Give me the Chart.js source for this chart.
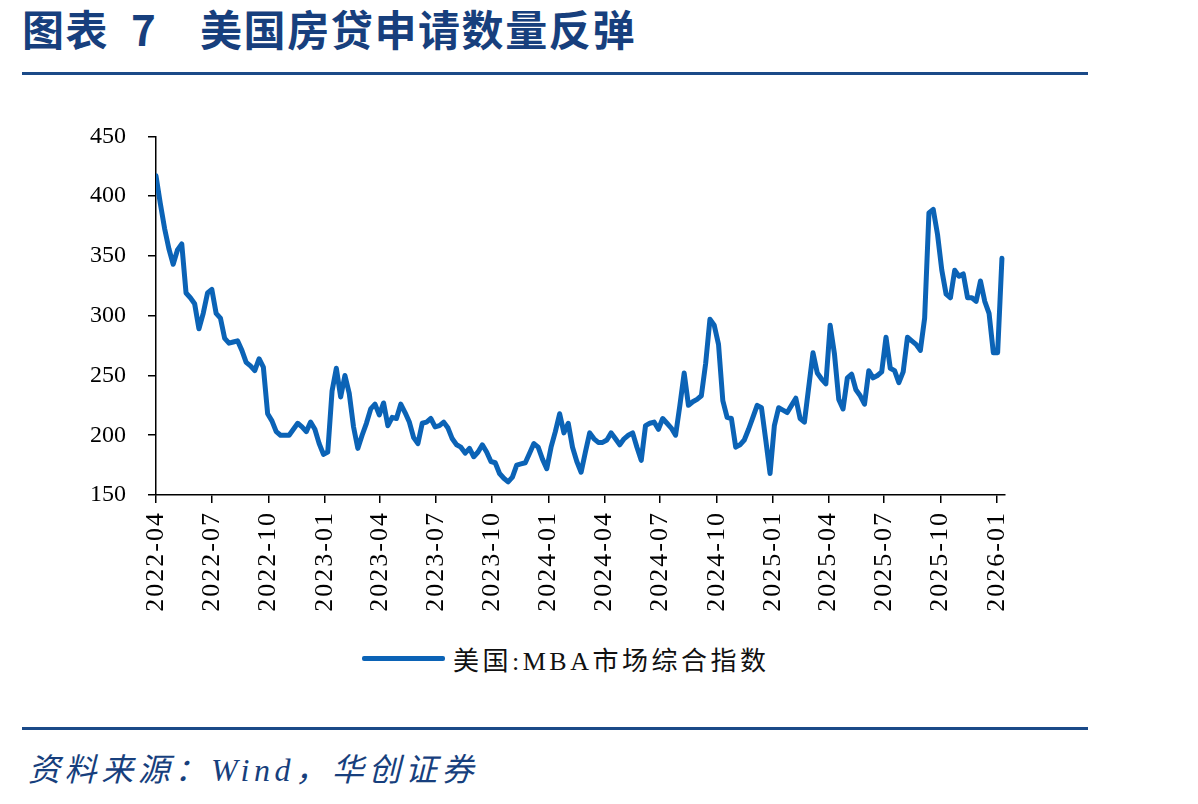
<!DOCTYPE html>
<html lang="zh-CN">
<head>
<meta charset="UTF-8">
<title>美国房贷申请数量反弹</title>
<script src="https://cdn.jsdelivr.net/npm/chart.js"></script>
<style>
  html, body { margin: 0; padding: 0; background: #fff; }
  body { width: 1198px; height: 804px; position: relative; overflow: hidden; font-family: 'Noto Sans CJK SC', sans-serif; }
  .title { position: absolute; top: 1px; font-size: 42px; font-weight: bold; color: #173f7d; white-space: nowrap; line-height: 54px; letter-spacing: 1.6px; }
  .rule { position: absolute; left: 22px; width: 1066px; height: 3px; background: #1b4a88; }
  #chartBox { position: absolute; left: 0; top: 100px; width: 1198px; height: 540px; }
  .legend { position: absolute; left: 362px; top: 640px; height: 36px; display: flex; align-items: center; white-space: nowrap; }
  .legend .swatch { width: 83px; height: 5px; background: #0b63b6; border-radius: 2px; margin-right: 8px; }
  .legend .label { font-size: 26px; color: #111; letter-spacing: 3.5px; font-family: 'Liberation Serif', 'Noto Sans CJK SC', serif; }
  .source { position: absolute; left: 28px; top: 744px; font-size: 32px; font-style: italic; color: #173f7d; white-space: nowrap; letter-spacing: 4.6px; font-family: 'Liberation Serif', 'Noto Sans CJK SC', serif; }
</style>
</head>
<body>
  <div class="title" style="left:22px;">图表</div>
  <div class="title" style="left:131px;">7</div>
  <div class="title" style="left:200px;">美国房贷申请数量反弹</div>
  <div class="rule" style="top:72px;"></div>

  <div id="chartBox"><canvas id="mbaChart"></canvas></div>

  <div class="legend"><div class="swatch"></div><div class="label">美国:MBA市场综合指数</div></div>

  <div class="rule" style="top:727px;"></div>
  <div class="source">资料来源：Wind，华创证券</div>

<script>
// weekly series, first week ending 2022-04-01
const startDate = '2022-04-01';
const stepDays = 7;
const seriesName = '美国:MBA市场综合指数';

const mbaIndex = [
  417, 394, 373, 356, 343, 355, 360, 319, 315, 310,
  289, 302, 319, 322, 302, 298, 281, 277, 278, 279,
  271, 261, 258, 254, 264, 257, 218, 212, 203, 200,
  200, 200, 205, 210, 207, 203, 211, 205, 193, 184,
  186, 237, 256, 232, 250, 235, 207, 189, 200, 210,
  222, 226, 217, 227, 208, 215, 214, 226, 219, 211,
  198, 193, 210, 211, 214, 207, 208, 211, 206, 197,
  192, 190, 185, 189, 182, 186, 192, 186, 178, 177,
  168, 164, 161, 165, 175, 176, 177, 185, 193, 190,
  180, 172, 190, 203, 218, 202, 210, 190, 178, 169,
  186, 202, 197, 194, 194, 196, 202, 197, 192, 197,
  200, 202, 190, 179, 208, 210, 211, 205, 214, 210,
  206, 200, 225, 252, 225, 228, 230, 233, 260, 297,
  292, 276, 229, 215, 214, 190, 192, 196, 205, 215,
  225, 223, 196, 168, 208, 223, 221, 219, 225, 231,
  214, 211, 240, 269, 252, 247, 243, 292, 268, 230,
  222, 248, 251, 238, 233, 226, 254, 248, 250, 253,
  282, 256, 254, 244, 253, 282, 279, 276, 271, 298,
  386, 389, 368, 338, 318, 315, 338, 333, 335, 315,
  315, 312, 329, 312, 302, 269, 269, 348
];

const tickLabels = [
  '2022-04', '2022-07', '2022-10', '2023-01', '2023-04', '2023-07', '2023-10', '2024-01',
  '2024-04', '2024-07', '2024-10', '2025-01', '2025-04', '2025-07', '2025-10', '2026-01'
];

const yMin = 150;
const yMax = 450;
const yStep = 50;
const xEndDays = 1384;

function daysSinceStart(label) {
  const [sy, sm, sd] = startDate.split('-').map(Number);
  const [y, m] = label.split('-').map(Number);
  return (Date.UTC(y, m - 1, 1) - Date.UTC(sy, sm - 1, sd)) / 86400000;
}

const tickDays = tickLabels.map(daysSinceStart);
const points = mbaIndex.map((v, i) => ({ x: i * stepDays, y: v }));

const serif = "'Liberation Serif', 'Times New Roman', serif";

// x tick labels are drawn after the datasets (ticks.z = 1), so widen their spacing there
const labelSpacing = {
  id: 'labelSpacing',
  afterDatasetsDraw(chart) { chart.ctx.letterSpacing = '2px'; },
  afterDraw(chart) { chart.ctx.letterSpacing = '0px'; }
};

new Chart(document.getElementById('mbaChart'), {
  type: 'line',
  data: {
    datasets: [{
      label: seriesName,
      data: points,
      borderColor: '#0b63b6',
      borderWidth: 5,
      pointRadius: 0,
      tension: 0,
      borderJoinStyle: 'round',
      borderCapStyle: 'round'
    }]
  },
  plugins: [labelSpacing],
  options: {
    responsive: true,
    maintainAspectRatio: false,
    animation: false,
    layout: { padding: { top: 33, right: 193, left: 0, bottom: 0 } },
    plugins: {
      legend: { display: false },
      tooltip: { enabled: false }
    },
    scales: {
      x: {
        type: 'linear',
        min: 0,
        max: xEndDays,
        afterBuildTicks: (scale) => { scale.ticks = tickDays.map(v => ({ value: v })); },
        afterFit: (scale) => { scale.height = 145; },
        grid: { drawOnChartArea: false, drawTicks: true, tickLength: 8, color: '#000', lineWidth: 1.5 },
        border: { display: true, color: '#000', width: 1.5 },
        ticks: {
          z: 1,
          autoSkip: false,
          minRotation: 90,
          maxRotation: 90,
          padding: 8,
          color: '#000',
          font: { family: serif, size: 26 },
          callback: (value, index) => tickLabels[index]
        }
      },
      y: {
        min: yMin,
        max: yMax,
        afterFit: (scale) => { scale.width = 156; },
        grid: { drawOnChartArea: false, drawTicks: true, tickLength: 8, color: '#000', lineWidth: 1.5 },
        border: { display: true, color: '#000', width: 1.5 },
        ticks: {
          stepSize: yStep,
          padding: 22,
          color: '#000',
          font: { family: serif, size: 24 }
        }
      }
    }
  }
});
</script>
</body>
</html>
